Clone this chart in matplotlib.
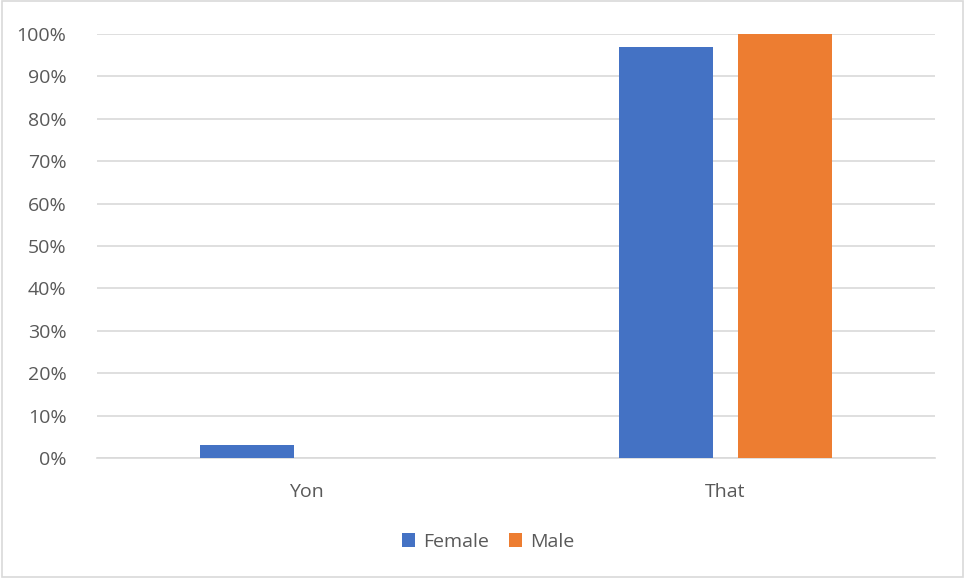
import matplotlib
matplotlib.use("Agg")
import matplotlib.pyplot as plt
import numpy as np
from matplotlib.patches import Rectangle

# data
categories = ["Yon", "That"]
female = [0.03, 0.97]
male = [0.0, 1.0]
series_names = ["Female", "Male"]
colors = ["#4472C4", "#ED7D31"]

plt.rcParams['font.family'] = ['Open Sans', 'DejaVu Sans']

fig = plt.figure(figsize=(9.65, 5.78), dpi=100)
ax = fig.add_axes([97 / 965, 1 - 458 / 578, (935 - 97) / 965, (458 - 34) / 578])

x = np.arange(len(categories))
w = 0.222
off = 0.142
ax.bar(x - off, female, w, color=colors[0], label=series_names[0], zorder=3)
ax.bar(x + off, male, w, color=colors[1], label=series_names[1], zorder=3)

ax.set_xlim(-0.5, 1.5)
ax.set_ylim(0, 1.0)
ax.set_yticks(np.arange(0, 1.01, 0.1))
ax.set_yticklabels([f"{int(round(v * 100))}%" for v in np.arange(0, 1.01, 0.1)])
ax.set_xticks(x)
ax.set_xticklabels(categories)
ax.grid(axis="y", color="#d9d9d9", linewidth=1.2, zorder=0)
ax.set_axisbelow(True)
for s in ["top", "right", "left"]:
    ax.spines[s].set_visible(False)
ax.spines["bottom"].set_color("#d9d9d9")
ax.spines["bottom"].set_linewidth(1.2)
ax.tick_params(axis="both", length=0, colors="#595959", labelsize=14)
ax.tick_params(axis="y", pad=22)
ax.tick_params(axis="x", pad=18)

ax.legend(loc="center", bbox_to_anchor=(488 / 965, 1 - 542 / 578), bbox_transform=fig.transFigure,
          ncol=2, frameon=False, fontsize=14, labelcolor="#595959",
          handlelength=0.7, handleheight=0.7, handletextpad=0.4, columnspacing=1.0)

fig.patches.append(Rectangle((0.002, 0.002), 0.996, 0.996, transform=fig.transFigure,
                             fill=False, edgecolor="#d9d9d9", linewidth=1.2))

fig.savefig("out.png", dpi=100, facecolor="white")
